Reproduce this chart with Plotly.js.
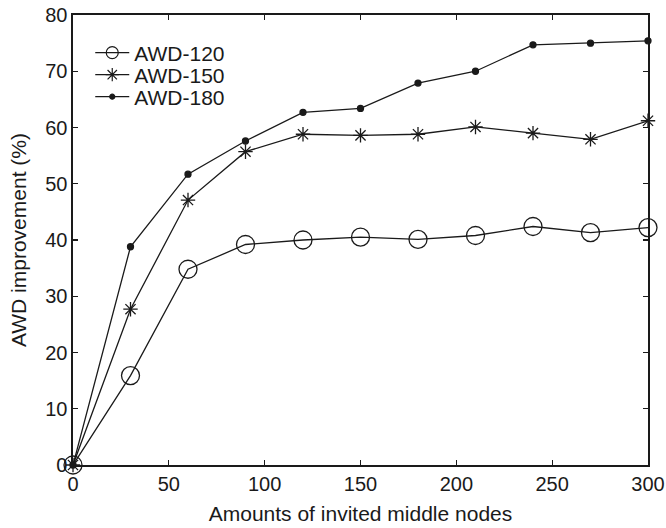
<!DOCTYPE html>
<html>
<head>
<meta charset="utf-8">
<script src="https://cdn.plot.ly/plotly-3.0.1.min.js"></script>
<style>html,body{margin:0;padding:0;background:#fff;}#chart{width:666px;height:528px;}</style>
</head>
<body>
<div id="chart"></div>
<script>
const nodes = [0, 30, 60, 90, 120, 150, 180, 210, 240, 270, 300];
const awd120 = [0, 15.9, 34.8, 39.2, 40.0, 40.5, 40.1, 40.8, 42.4, 41.3, 42.2];
const awd150 = [0, 27.7, 47.1, 55.7, 58.8, 58.6, 58.8, 60.1, 59.0, 57.9, 61.2];
const awd180 = [0, 38.8, 51.7, 57.6, 62.7, 63.4, 67.9, 70.0, 74.7, 75.0, 75.4];
const seriesNames = ['AWD-120', 'AWD-150', 'AWD-180'];
const xTicks = [0, 50, 100, 150, 200, 250, 300];
const yTicks = [0, 10, 20, 30, 40, 50, 60, 70, 80];

const ink = '#1a1a1a';
const font = 'Liberation Sans, Arial, sans-serif';
const fs = 20;
const tfs = 21;

const series = [
  {y: awd120, symbol: 'circle-open', size: 18, legSize: 12, legend: 'legend'},
  {y: awd150, symbol: 'asterisk-open', size: 12, legSize: 11, legend: 'legend2'},
  {y: awd180, symbol: 'circle', size: 6, legSize: 5, legend: 'legend3'}
];

const traces = [];
series.forEach((s, i) => {
  // data trace
  traces.push({x: nodes, y: s.y, name: seriesNames[i], mode: 'lines+markers',
    showlegend: false, cliponaxis: false,
    line: {color: ink, width: 1.3},
    marker: {symbol: s.symbol, size: s.size, color: ink, line: {width: 1.3, color: ink}}});
  // legend entry (no data points)
  traces.push({x: [null], y: [null], name: seriesNames[i], mode: 'lines+markers',
    legend: s.legend, showlegend: true,
    line: {color: ink, width: 1.3},
    marker: {symbol: s.symbol, size: s.legSize, color: ink, line: {width: 1.2, color: ink}}});
});

function leg(y) {
  return {x: 0.03, y: y, xanchor: 'left', yanchor: 'middle', itemsizing: 'trace',
          itemwidth: 34, bgcolor: 'rgba(0,0,0,0)',
          font: {family: font, size: tfs, color: ink}};
}

const layout = {
  width: 666, height: 528,
  margin: {l: 73, r: 18, t: 15, b: 63, pad: 0},
  paper_bgcolor: '#fff', plot_bgcolor: '#fff',
  font: {family: font, size: fs, color: ink},
  showlegend: true,
  legend: leg(0.9156),
  legend2: leg(0.8667),
  legend3: leg(0.8178),
  xaxis: {range: [0, 300], tickvals: xTicks, ticktext: xTicks.map(String),
          ticks: 'inside', ticklen: 5, tickwidth: 1.2, tickcolor: ink,
          showline: true, linecolor: ink, linewidth: 1.6, mirror: 'ticks',
          showgrid: false, zeroline: false,
          tickfont: {family: font, size: fs, color: ink},
          title: {text: 'Amounts of invited middle nodes', font: {family: font, size: tfs, color: ink}, standoff: 13}},
  yaxis: {range: [0, 80], tickvals: yTicks, ticktext: yTicks.map(String),
          ticks: 'inside', ticklen: 5, tickwidth: 1.2, tickcolor: ink,
          showline: true, linecolor: ink, linewidth: 1.6, mirror: 'ticks',
          showgrid: false, zeroline: false,
          tickfont: {family: font, size: fs, color: ink},
          title: {text: 'AWD improvement (%)', font: {family: font, size: tfs, color: ink}, standoff: 13}}
};

Plotly.newPlot('chart', traces, layout, {displayModeBar: false, staticPlot: true});
</script>
</body>
</html>
